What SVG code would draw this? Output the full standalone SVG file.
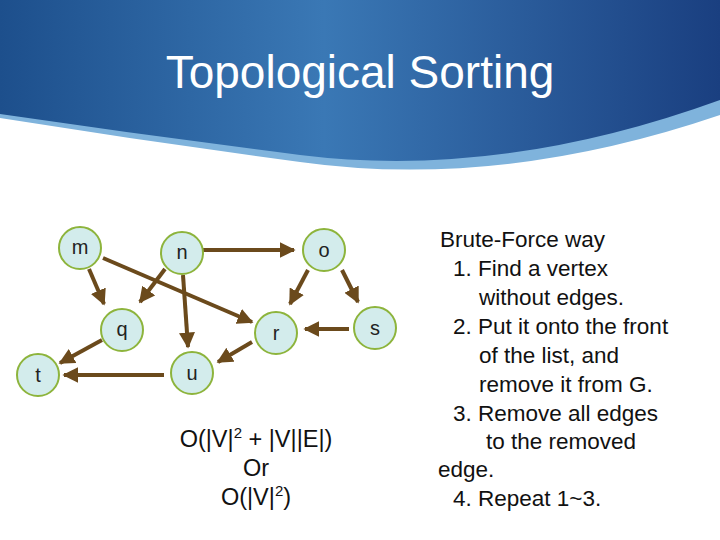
<svg xmlns="http://www.w3.org/2000/svg" width="720" height="540" viewBox="0 0 720 540">
<defs>
<linearGradient id="hg" x1="0" y1="0" x2="1" y2="0">
<stop offset="0" stop-color="#1d4f8c"/><stop offset="0.45" stop-color="#3a78b5"/><stop offset="1" stop-color="#1a3f80"/>
</linearGradient>
<marker id="ah" viewBox="0 0 10 10" refX="9" refY="5" markerWidth="4" markerHeight="4" orient="auto"><path d="M0,0 L10,5 L0,10 z" fill="#6b4a1c"/></marker>
<style>
.nd{fill:#d3ecec;stroke:#8db43c;stroke-width:2}
.lb{font-family:"Liberation Sans",Arial,sans-serif;font-size:20px;fill:#222;text-anchor:middle}
.e{stroke:#6b4a1c;stroke-width:4;fill:none;marker-end:url(#ah)}
.tx{font-family:"Liberation Sans",Arial,sans-serif;font-size:22.5px;fill:#111}
.tc{font-family:"Liberation Sans",Arial,sans-serif;font-size:23.5px;fill:#111;text-anchor:middle}
</style>
</defs>
<rect width="720" height="540" fill="#fff"/>
<path d="M0,0 H720 V115 Q500,190 300,162 Q150,142 0,118 Z" fill="#7fb3dc"/>
<path d="M0,0 H720 V100 Q500,180 300,155 Q150,136 0,114 Z" fill="url(#hg)"/>
<text x="360" y="88" font-family="Liberation Sans,Arial,sans-serif" font-size="46" fill="#fff" text-anchor="middle">Topological Sorting</text>
<g id="edges">
<line class="e" x1="203" y1="250" x2="294" y2="250"/>
<line class="e" x1="89" y1="269" x2="104" y2="304"/>
<line class="e" x1="103" y1="258" x2="252" y2="322"/>
<line class="e" x1="165" y1="269" x2="140" y2="302"/>
<line class="e" x1="183" y1="275" x2="188" y2="347"/>
<line class="e" x1="308" y1="270" x2="290" y2="304"/>
<line class="e" x1="342" y1="270" x2="358" y2="302"/>
<line class="e" x1="349" y1="329" x2="305" y2="329"/>
<line class="e" x1="252" y1="342" x2="218" y2="362"/>
<line class="e" x1="102" y1="340" x2="60" y2="363"/>
<line class="e" x1="164" y1="375" x2="64" y2="375"/>
</g>
<g id="m"><circle class="nd" cx="80" cy="248" r="21"/><text class="lb" x="80" y="254">m</text></g>
<g id="n"><circle class="nd" cx="182" cy="253" r="21"/><text class="lb" x="182" y="259">n</text></g>
<g id="o"><circle class="nd" cx="324" cy="250" r="21"/><text class="lb" x="324" y="257">o</text></g>
<g id="q"><circle class="nd" cx="122" cy="330" r="21"/><text class="lb" x="122" y="336">q</text></g>
<g id="r"><circle class="nd" cx="276" cy="333" r="21"/><text class="lb" x="276" y="340">r</text></g>
<g id="s"><circle class="nd" cx="375" cy="328" r="21"/><text class="lb" x="375" y="335">s</text></g>
<g id="t"><circle class="nd" cx="38" cy="375" r="21"/><text class="lb" x="38" y="382">t</text></g>
<g id="u"><circle class="nd" cx="192" cy="373" r="21"/><text class="lb" x="192" y="380">u</text></g>
<g>
<text class="tc" x="256" y="447">O(|V|<tspan font-size="15" dy="-9">2</tspan><tspan dy="9"> + |V||E|)</tspan></text>
<text class="tc" x="256" y="476">Or</text>
<text class="tc" x="256" y="505">O(|V|<tspan font-size="15" dy="-9">2</tspan><tspan dy="9">)</tspan></text>
</g>
<g class="tx">
<text x="440" y="247">Brute-Force way</text>
<text x="453" y="276">1. Find a vertex</text>
<text x="479" y="305">without edges.</text>
<text x="453" y="334">2. Put it onto the front</text>
<text x="479" y="363">of the list, and</text>
<text x="479" y="392">remove it from G.</text>
<text x="453" y="421">3.  Remove all edges</text>
<text x="486" y="449">to the removed</text>
<text x="438" y="477">edge.</text>
<text x="453" y="506">4. Repeat 1~3.</text>
</g>
</svg>
